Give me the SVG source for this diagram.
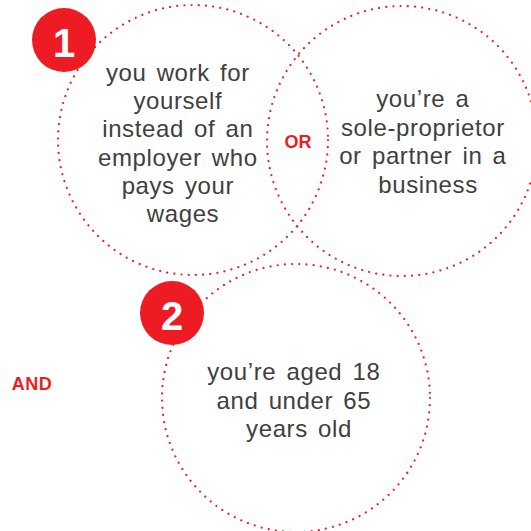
<svg xmlns="http://www.w3.org/2000/svg" width="531" height="531" viewBox="0 0 531 531">
<style>
.ring{fill:none;stroke:#ED1C24;stroke-width:2.2;stroke-linecap:round;stroke-dasharray:0.01 7.2}
.badge{fill:#ED1C24}
.num{font-family:"Liberation Sans",Arial,sans-serif;font-weight:bold;font-size:40px;fill:#fff;text-anchor:middle}
.txt{font-family:"Liberation Sans",Arial,sans-serif;font-size:24px;fill:#404040;text-anchor:middle;letter-spacing:0.6px;word-spacing:3px}
.lbl{font-family:"Liberation Sans",Arial,sans-serif;font-weight:bold;font-size:18px;fill:#ED1C24;text-anchor:middle}
</style>
<rect width="531" height="531" fill="#fff"/>
<g id="connectors">
<text class="lbl" x="298" y="148">OR</text>
<text class="lbl" x="32" y="390" letter-spacing="0.5">AND</text>
</g>
<g id="node1">
<circle class="ring" cx="193" cy="140" r="135"/>
<circle class="badge" cx="64" cy="40" r="32"/>
<text class="num" x="64" y="57">1</text>
<text class="txt">
<tspan x="183" y="81">you work for</tspan>
<tspan x="183" y="109.2">yourself</tspan>
<tspan x="183" y="137.4">instead of an</tspan>
<tspan x="183" y="165.6">employer who</tspan>
<tspan x="183" y="193.8">pays your</tspan>
<tspan x="183" y="222">wages</tspan>
</text>
</g>
<g id="node1b">
<circle class="ring" cx="402" cy="141" r="135"/>
<text class="txt">
<tspan x="428" y="107">you’re a</tspan>
<tspan x="428" y="135.5">sole-proprietor</tspan>
<tspan x="428" y="164">or partner in a</tspan>
<tspan x="428" y="192.5">business</tspan>
</text>
</g>
<g id="node2">
<circle class="ring" cx="296" cy="398" r="134"/>
<circle class="badge" cx="172" cy="313" r="32"/>
<text class="num" x="172" y="330">2</text>
<text class="txt">
<tspan x="299" y="380">you’re aged 18</tspan>
<tspan x="299" y="408.5">and under 65</tspan>
<tspan x="299" y="437">years old</tspan>
</text>
</g>
</svg>
